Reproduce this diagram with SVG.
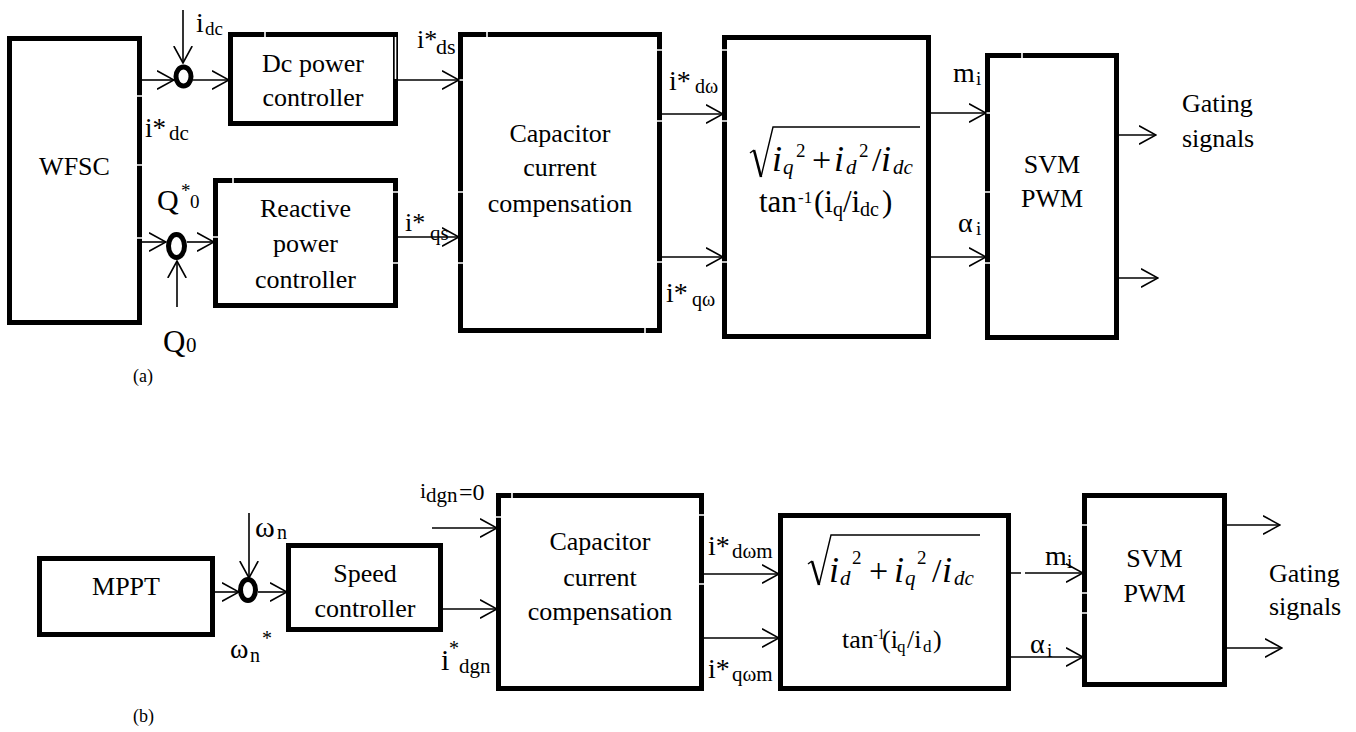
<svg xmlns="http://www.w3.org/2000/svg" width="1356" height="732" viewBox="0 0 1356 732">
<defs>
<style>
.box{fill:#fff;stroke:#000;stroke-width:5}
.w{fill:none;stroke:#000;stroke-width:1.6}
.sum{fill:none;stroke:#000;stroke-width:5}
.gap{stroke:#fff;stroke-width:1.6}
.rad{fill:none;stroke:#000;stroke-width:1.4}
</style>
<marker id="a" viewBox="0 0 18 20" refX="17" refY="10" markerWidth="18" markerHeight="20" markerUnits="userSpaceOnUse" orient="auto">
<path d="M0,0.8 L17,10 L0,19.2" fill="none" stroke="#000" stroke-width="1.6"/>
</marker>
</defs>
<rect width="1356" height="732" fill="#fff"/>

<!-- (a) -->
<g id="wfsc">
<rect class="box" x="9.5" y="38.5" width="130" height="284"/>
<text font-family="Liberation Serif" font-size="26" text-anchor="middle" x="74.5" y="175">WFSC</text>
</g>
<g id="sum1"><ellipse class="sum" cx="183.5" cy="76.5" rx="7.5" ry="9.5"/></g>
<g id="sum2"><ellipse class="sum" cx="176.5" cy="246" rx="8" ry="11.5"/></g>
<g id="dcpc">
<rect class="box" x="230.5" y="34.5" width="165" height="89"/>
<text font-family="Liberation Serif" font-size="26" text-anchor="middle" x="313" y="72">Dc power</text>
<text font-family="Liberation Serif" font-size="26" text-anchor="middle" x="313" y="106">controller</text>
</g>
<g id="rpc">
<rect class="box" x="215.5" y="180.5" width="180" height="125"/>
<text font-family="Liberation Serif" font-size="26" text-anchor="middle" x="305.5" y="217">Reactive</text>
<text font-family="Liberation Serif" font-size="26" text-anchor="middle" x="305.5" y="252">power</text>
<text font-family="Liberation Serif" font-size="26" text-anchor="middle" x="305.5" y="288">controller</text>
</g>
<g id="cca">
<rect class="box" x="460.5" y="34.5" width="199" height="296"/>
<text font-family="Liberation Serif" font-size="26" text-anchor="middle" x="560" y="142">Capacitor</text>
<text font-family="Liberation Serif" font-size="26" text-anchor="middle" x="560" y="176">current</text>
<text font-family="Liberation Serif" font-size="26" text-anchor="middle" x="560" y="212">compensation</text>
</g>
<g id="forma">
<rect class="box" x="724.5" y="37.5" width="204" height="299"/>
<path class="rad" d="M750,153 L754,150"/>
<path d="M754,150 L761,177" fill="none" stroke="#000" stroke-width="2.6"/>
<path class="rad" d="M761,177 L773,127 H920"/>
<text font-family="Liberation Serif"><tspan font-style="italic" x="772" y="171" font-size="36">i</tspan><tspan font-style="italic" x="783" y="174" font-size="21">q</tspan><tspan x="796" y="157" font-size="19">2</tspan><tspan x="812" y="171" font-size="34">+</tspan><tspan font-style="italic" x="834" y="171" font-size="36">i</tspan><tspan font-style="italic" x="846" y="174" font-size="21">d</tspan><tspan x="859" y="157" font-size="19">2</tspan><tspan x="872" y="171" font-size="34">/</tspan><tspan font-style="italic" x="881" y="171" font-size="36">i</tspan><tspan font-style="italic" x="893" y="174" font-size="21">dc</tspan></text>
<text font-family="Liberation Serif"><tspan x="759" y="212" font-size="31">tan</tspan><tspan x="798" y="203" font-size="17">-1</tspan><tspan x="814" y="212" font-size="31">(i</tspan><tspan x="833" y="216" font-size="20">q</tspan><tspan x="843" y="212" font-size="31">/i</tspan><tspan x="860" y="216" font-size="20">dc</tspan><tspan x="882" y="212" font-size="31">)</tspan></text>
</g>
<g id="svma">
<rect class="box" x="987.5" y="55.5" width="129" height="282"/>
<text font-family="Liberation Serif" font-size="26" text-anchor="middle" x="1052" y="173">SVM</text>
<text font-family="Liberation Serif" font-size="26" text-anchor="middle" x="1052" y="207">PWM</text>
</g>

<!-- (b) -->
<g id="mppt">
<rect class="box" x="39.5" y="558.5" width="173" height="76"/>
<text font-family="Liberation Serif" font-size="26" text-anchor="middle" x="126" y="595">MPPT</text>
</g>
<g id="sum3"><ellipse class="sum" cx="248" cy="590" rx="7.5" ry="10.5"/></g>
<g id="speed">
<rect class="box" x="288.5" y="545.5" width="152" height="84"/>
<text font-family="Liberation Serif" font-size="26" text-anchor="middle" x="365" y="582">Speed</text>
<text font-family="Liberation Serif" font-size="26" text-anchor="middle" x="365" y="617">controller</text>
</g>
<g id="ccb">
<rect class="box" x="498.5" y="495.5" width="203" height="193"/>
<text font-family="Liberation Serif" font-size="26" text-anchor="middle" x="600" y="550">Capacitor</text>
<text font-family="Liberation Serif" font-size="26" text-anchor="middle" x="600" y="586">current</text>
<text font-family="Liberation Serif" font-size="26" text-anchor="middle" x="600" y="620">compensation</text>
</g>
<g id="formb">
<rect class="box" x="780.5" y="515.5" width="228" height="173"/>
<path class="rad" d="M808,564 L812,561"/>
<path d="M812,561 L819,585" fill="none" stroke="#000" stroke-width="2.6"/>
<path class="rad" d="M819,585 L831,535 H980"/>
<text font-family="Liberation Serif"><tspan font-style="italic" x="829" y="582" font-size="36">i</tspan><tspan font-style="italic" x="840" y="585" font-size="21">d</tspan><tspan x="852" y="564" font-size="19">2</tspan><tspan x="869" y="582" font-size="34">+</tspan><tspan font-style="italic" x="894" y="582" font-size="36">i</tspan><tspan font-style="italic" x="905" y="585" font-size="21">q</tspan><tspan x="917" y="564" font-size="19">2</tspan><tspan x="932" y="582" font-size="34">/</tspan><tspan font-style="italic" x="942" y="582" font-size="36">i</tspan><tspan font-style="italic" x="954" y="585" font-size="21">dc</tspan></text>
<text font-family="Liberation Serif"><tspan x="842" y="648" font-size="26">tan</tspan><tspan x="873" y="639" font-size="14">-1</tspan><tspan x="882" y="648" font-size="26">(i</tspan><tspan x="897" y="652" font-size="17">q</tspan><tspan x="907" y="648" font-size="26">/i</tspan><tspan x="923" y="652" font-size="17">d</tspan><tspan x="933" y="648" font-size="26">)</tspan></text>
</g>
<g id="svmb">
<rect class="box" x="1084.5" y="495.5" width="140" height="189"/>
<text font-family="Liberation Serif" font-size="26" text-anchor="middle" x="1154.5" y="567">SVM</text>
<text font-family="Liberation Serif" font-size="26" text-anchor="middle" x="1154.5" y="602">PWM</text>
</g>

<!-- edge gaps -->
<g id="gaps">
<path class="gap" d="M136,96 H143 M136,165 H143 M136,238 H143 M265,31 V38 M233,177 V184 M212,237 H219 M392,192 H399 M392,263 H399 M457,80 H464 M457,192 H464 M457,263 H464 M656,50 H663 M656,121 H663 M656,262 H663 M487,31 V38 M645,327 V334 M721,50 H728 M721,121 H728 M721,262 H728 M1022,52 V59 M984,113 H991 M984,192 H991 M984,263 H991 M512,492 V499 M495,517 H502 M698,515 H705 M698,584 H705 M1081,525 H1088 M1081,593 H1088 M1081,613 H1088 M395.5,37 V79 M1023,571 V575"/>
</g>

<g id="connectors">
<path class="w" marker-end="url(#a)" d="M142,80 H174"/>
<path class="w" marker-end="url(#a)" d="M193,80 H229"/>
<path class="w" marker-end="url(#a)" d="M183,10 V63"/>
<path class="w" marker-end="url(#a)" d="M398,80 H459"/>
<path class="w" marker-end="url(#a)" d="M142,242 H166"/>
<path class="w" marker-end="url(#a)" d="M187,242 H214"/>
<path class="w" marker-end="url(#a)" d="M177,307 V261"/>
<path class="w" marker-end="url(#a)" d="M398,237 H459"/>
<path class="w" marker-end="url(#a)" d="M662,114 H723"/>
<path class="w" marker-end="url(#a)" d="M662,257 H723"/>
<path class="w" marker-end="url(#a)" d="M931,113 H986"/>
<path class="w" marker-end="url(#a)" d="M931,257 H986"/>
<path class="w" marker-end="url(#a)" d="M1119,135 H1156"/>
<path class="w" marker-end="url(#a)" d="M1119,278 H1158"/>
<path class="w" marker-end="url(#a)" d="M215,592 H239"/>
<path class="w" marker-end="url(#a)" d="M258,592 H287"/>
<path class="w" marker-end="url(#a)" d="M249,513 V578"/>
<path class="w" marker-end="url(#a)" d="M443,609 H497"/>
<path class="w" marker-end="url(#a)" d="M432,528 H497"/>
<path class="w" marker-end="url(#a)" d="M704,574 H779"/>
<path class="w" marker-end="url(#a)" d="M704,638 H779"/>
<path class="w" marker-end="url(#a)" d="M1011,573 H1021 M1025,573 H1083"/>
<path class="w" marker-end="url(#a)" d="M1011,657 H1083"/>
<path class="w" marker-end="url(#a)" d="M1227,525 H1280"/>
<path class="w" marker-end="url(#a)" d="M1227,648 H1282"/>
</g>

<g id="labels">
<text font-family="Liberation Serif"><tspan x="196" y="32" font-size="28">i</tspan><tspan x="205" y="35" font-size="19">dc</tspan></text>
<text font-family="Liberation Serif"><tspan x="417" y="48" font-size="26">i*</tspan><tspan x="436" y="54" font-size="22">ds</tspan></text>
<text font-family="Liberation Serif"><tspan x="145" y="137" font-size="27">i*</tspan><tspan x="169" y="140" font-size="21">dc</tspan></text>
<text font-family="Liberation Serif"><tspan x="157" y="210" font-size="30">Q</tspan><tspan x="181" y="197" font-size="19">*</tspan><tspan x="190" y="208" font-size="19">0</tspan></text>
<text font-family="Liberation Serif"><tspan x="163" y="352" font-size="31">Q</tspan><tspan x="186" y="352" font-size="21">0</tspan></text>
<text font-family="Liberation Serif"><tspan x="405" y="231" font-size="26">i*</tspan><tspan x="430" y="240" font-size="21">qs</tspan></text>
<text font-family="Liberation Serif"><tspan x="669" y="90" font-size="28">i*</tspan><tspan x="695" y="93" font-size="20">dω</tspan></text>
<text font-family="Liberation Serif"><tspan x="666" y="302" font-size="28">i*</tspan><tspan x="692" y="306" font-size="20">qω</tspan></text>
<text font-family="Liberation Serif"><tspan x="953" y="82" font-size="28">m</tspan><tspan x="976" y="85" font-size="19">i</tspan></text>
<text font-family="Liberation Serif"><tspan x="958" y="232" font-size="28">α</tspan><tspan x="976" y="235" font-size="19">i</tspan></text>
<text font-family="Liberation Serif" font-size="26"><tspan x="1182" y="112">Gating</tspan><tspan x="1182" y="147">signals</tspan></text>
<text font-family="Liberation Serif" x="133" y="382" font-size="18">(a)</text>

<text font-family="Liberation Serif"><tspan x="255" y="537" font-size="30">ω</tspan><tspan x="277" y="539" font-size="20">n</tspan></text>
<text font-family="Liberation Serif"><tspan x="230" y="658" font-size="28">ω</tspan><tspan x="250" y="662" font-size="20">n</tspan><tspan x="262" y="645" font-size="20">*</tspan></text>
<text font-family="Liberation Serif"><tspan x="420" y="498" font-size="22">i</tspan><tspan x="426" y="502" font-size="21">dgn</tspan><tspan x="459" y="500" font-size="24">=0</tspan></text>
<text font-family="Liberation Serif"><tspan x="441" y="670" font-size="30">i</tspan><tspan x="449" y="655" font-size="20">*</tspan><tspan x="459" y="673" font-size="21">dgn</tspan></text>
<text font-family="Liberation Serif"><tspan x="708" y="555" font-size="28">i*</tspan><tspan x="732" y="558" font-size="21">dωm</tspan></text>
<text font-family="Liberation Serif"><tspan x="708" y="678" font-size="28">i*</tspan><tspan x="732" y="681" font-size="21">qωm</tspan></text>
<text font-family="Liberation Serif"><tspan x="1045" y="565" font-size="28">m</tspan><tspan x="1067" y="568" font-size="19">i</tspan></text>
<text font-family="Liberation Serif"><tspan x="1030" y="653" font-size="28">α</tspan><tspan x="1047" y="657" font-size="19">i</tspan></text>
<text font-family="Liberation Serif" font-size="26"><tspan x="1269" y="582">Gating</tspan><tspan x="1269" y="615">signals</tspan></text>
<text font-family="Liberation Serif" x="133" y="722" font-size="18">(b)</text>
</g>
</svg>
